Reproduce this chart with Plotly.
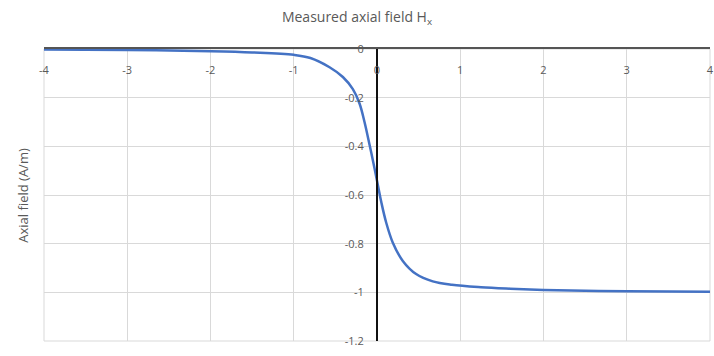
import plotly.graph_objects as go

# Data
x_pos = [-4, -3, -2, -1.5, -1, -0.8, -0.57, -0.41, -0.29, -0.21, -0.15, -0.088, -0.028,
         0.012, 0.052, 0.11, 0.19, 0.31, 0.47, 0.67, 0.9, 1.25, 1.6, 2, 2.5, 3, 4]
h_field = [-0.002, -0.004, -0.009, -0.014, -0.024, -0.037, -0.075, -0.115, -0.165, -0.224,
           -0.30, -0.396, -0.493, -0.562, -0.63, -0.713, -0.796, -0.871, -0.925, -0.955,
           -0.969, -0.979, -0.985, -0.99, -0.994, -0.996, -0.998]

x_ticks = [-4, -3, -2, -1, 0, 1, 2, 3, 4]
y_ticks = [0, -0.2, -0.4, -0.6, -0.8, -1, -1.2]
y_tick_text = ["0", "-0.2", "-0.4", "-0.6", "-0.8", "-1", "-1.2"]

title_text = "Measured axial field H<sub>x</sub>"
y_title = "Axial field (A/m)"

fig = go.Figure()
fig.add_trace(go.Scatter(
    x=x_pos, y=h_field, mode="lines",
    line=dict(color="#4472C4", width=2.5, shape="spline", smoothing=1.0),
    showlegend=False,
))

font_family = "Open Sans, Liberation Sans, sans-serif"
grey = "#595959"

fig.update_layout(
    width=714, height=356,
    margin=dict(l=44, r=4, t=49, b=15, autoexpand=False),
    paper_bgcolor="white", plot_bgcolor="white",
    title=dict(text=title_text, x=0.5, xanchor="center", y=0.952, yanchor="middle",
               font=dict(family=font_family, size=14, color=grey)),
    font=dict(family=font_family, size=11, color=grey),
)

fig.update_xaxes(
    range=[-4, 4], tickvals=x_ticks, ticktext=[str(v) for v in x_ticks],
    side="top", ticklabelposition="inside", ticklabeloverflow="allow",
    ticklabelstandoff=17, automargin=False,
    showgrid=True, gridcolor="#d9d9d9", gridwidth=1,
    showline=True, linecolor="#555555", linewidth=2,
    zeroline=False, ticks="",
    tickfont=dict(family=font_family, size=11, color=grey),
)

fig.update_yaxes(
    range=[-1.2, 0], tickvals=y_ticks, ticktext=y_tick_text,
    anchor="free", position=0.5, automargin=False,
    showgrid=True, gridcolor="#d9d9d9", gridwidth=1,
    showline=True, linecolor="#111111", linewidth=2,
    zeroline=False, ticks="outside", ticklen=10, tickcolor="rgba(0,0,0,0)",
    ticklabeloverflow="allow",
    tickfont=dict(family=font_family, size=11, color=grey),
)

# plot-area frame (right and bottom edges like the reference gridlines)
fig.add_shape(type="rect", xref="x domain", yref="y domain", x0=0, x1=1, y0=0, y1=1,
              line=dict(color="#d9d9d9", width=1), layer="below")

fig.add_annotation(
    text=y_title, textangle=-90, xref="paper", yref="paper",
    x=-0.032, y=0.5, xanchor="center", yanchor="middle", showarrow=False,
    font=dict(family=font_family, size=13, color=grey),
)

fig.write_html("out.html", config={"displayModeBar": False},
               post_script="document.body.style.margin='0px';")
